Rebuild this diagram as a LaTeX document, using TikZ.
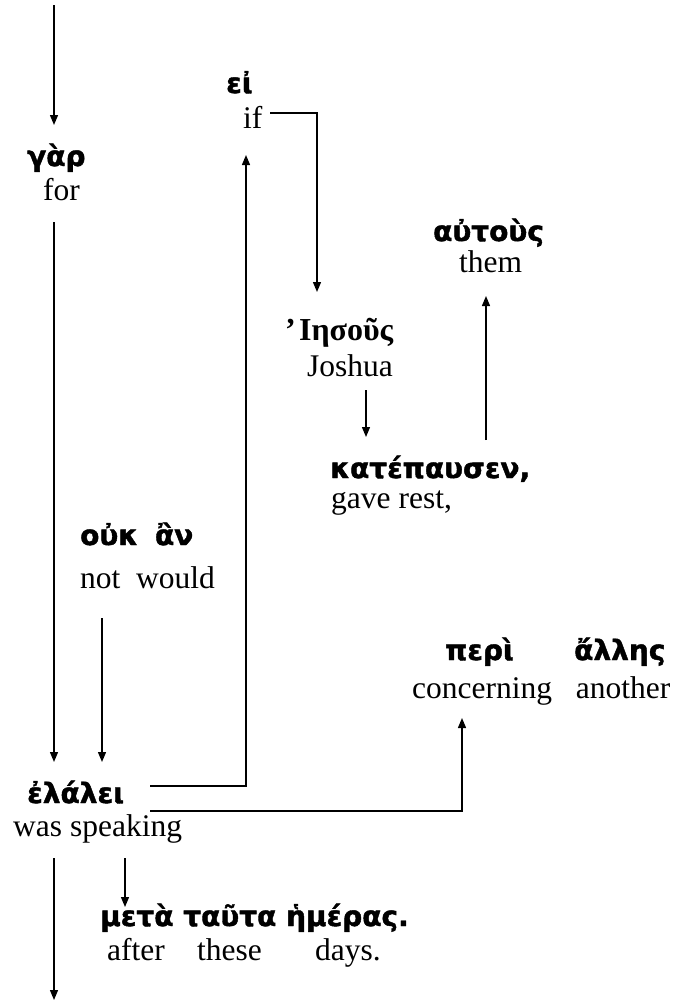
\documentclass[tikz,border=0pt]{standalone}
\usepackage{fontspec}
\setmainfont{Liberation Serif}
\newfontfamily\grkfont[FakeBold=1.5]{DejaVu Sans Bold}
\newfontfamily\grkserif{Liberation Serif}
\usetikzlibrary{arrows.meta}
\tikzset{
  eng/.style={font=\fontsize{31.5}{36}\selectfont, inner sep=0pt, anchor=base west},
  grk/.style={font=\fontsize{28}{32}\grkfont, inner sep=0pt, anchor=base west},
  grks/.style={font=\fontsize{32}{36}\grkserif\bfseries, inner sep=0pt, anchor=base west},
  arr/.style={line width=1.3pt, -{Triangle[length=10pt,width=8pt]}},
  ln/.style={line width=1.3pt}
}
\begin{document}
\begin{tikzpicture}[x=1pt,y=1pt]
\useasboundingbox (0,0) rectangle (681,-1002);
% nodes
\node[grk] (gar) at (27,-166) {γὰρ};
\node[eng] (for) at (43,-200) {for};
\node[grk] (ei) at (226,-93) {εἰ};
\node[eng] (if) at (243,-128) {if};
\node[grk] (autous) at (433,-241) {αὐτοὺς};
\node[eng] (them) at (459,-272) {them};
\node[grks] (iesous) at (285,-340) {’\hspace{0.1em}Ιησοῦς};
\node[eng] (joshua) at (307,-376) {Joshua};
\node[grk] (kat) at (330,-478) {κατέπαυσεν,};
\node[eng] (gave) at (331,-508) {gave rest,};
\node[grk] (ouk) at (80,-545) {οὐκ\hspace{0.6em}ἂν};
\node[eng] (notw) at (80,-588) {not\hspace{0.5em}would};
\node[grk] (peri) at (445,-660) {περὶ};
\node[grk] (allhs) at (574,-660) {ἄλλης};
\node[eng] (conc) at (412,-698) {concerning\hspace{0.75em}another};
\node[grk] (elalei) at (27,-803) {ἐλάλει};
\node[eng] (wassp) at (13,-836) {was speaking};
\node[grk] (meta) at (100,-926) {μετὰ ταῦτα ἡμέρας.};
\node[eng] (after) at (107,-960) {after};
\node[eng] (these) at (197,-960) {these};
\node[eng] (days) at (315,-960) {days.};
\coordinate (topc) at (54,-5);
\coordinate (botc) at (54,-1000);
% connectors
\draw[arr] (topc) -- ([yshift=41pt]gar.base west -| topc);
\draw[arr] ([yshift=-22pt]for.base west -| topc) -- ([yshift=41pt]elalei.base west -| topc);
\draw[arr] ([shift={(22pt,-30pt)}]notw.base west) -- ([shift={(75pt,41pt)}]elalei.base west);
\draw[arr] ([shift={(123pt,17pt)}]elalei.base west) -| ([shift={(3pt,-27pt)}]if.base west);
\draw[arr] ([shift={(27pt,15pt)}]if.base west) -| ([shift={(32pt,48pt)}]iesous.base west);
\draw[arr] ([shift={(59pt,-14pt)}]joshua.base west) -- ([shift={(36pt,41pt)}]kat.base west);
\draw[arr] ([shift={(156pt,38pt)}]kat.base west) -- ([shift={(27pt,-24pt)}]them.base west);
\draw[arr] ([shift={(123pt,-8pt)}]elalei.base west) -| ([shift={(50pt,-20pt)}]conc.base west);
\draw[arr] ([shift={(112pt,-22pt)}]wassp.base west) -- ([shift={(25pt,19pt)}]meta.base west);
\draw[arr] ([shift={(41pt,-22pt)}]wassp.base west) -- (botc);
\end{tikzpicture}
\end{document}
